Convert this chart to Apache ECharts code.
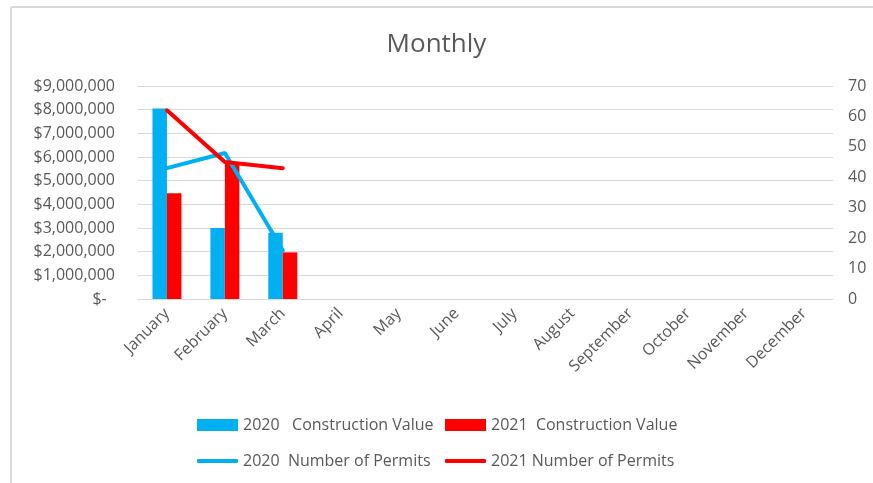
<!DOCTYPE html>
<html lang="en">
<head>
    <meta charset="utf-8">
    <title>Monthly</title>
    <script src="https://cdn.jsdelivr.net/npm/echarts@6/dist/echarts.min.js"></script>
    <style>
        html, body { margin: 0; padding: 0; background: #fff; }
    </style>
</head>
<body>
<div id="main" style="width: 873px;height:483px;"></div>

<script type="text/javascript">
    var months = ['January', 'February', 'March', 'April', 'May', 'June', 'July',
        'August', 'September', 'October', 'November', 'December'];
    var value2020 = [8050000, 3000000, 2800000, null, null, null, null, null, null, null, null, null];
    var value2021 = [4470000, 5700000, 1970000, null, null, null, null, null, null, null, null, null];
    var permits2020 = [43, 48, 16, null, null, null, null, null, null, null, null, null];
    var permits2021 = [62, 45, 43, null, null, null, null, null, null, null, null, null];

    var font = 'Open Sans';
    var grey = '#595959';
    var blue = '#00B0F0';
    var red = '#FF0000';

    var myChart = echarts.init(document.getElementById('main'));

    // one legend per entry so each sits where Excel put it
    function legendAt(name, left, top, h, icon) {
        return {
            data: [name],
            left: left,
            top: top,
            icon: icon,
            itemWidth: 41,
            itemHeight: h,
            itemGap: 0,
            textStyle: {color: grey, fontSize: 16, fontFamily: font}
        };
    }

    var option = {
        animation: false,
        title: {
            text: 'Monthly',
            left: 'center',
            top: 27,
            textStyle: {color: grey, fontSize: 26, fontWeight: 'normal', fontFamily: font}
        },
        graphic: [
            {type: 'line', shape: {x1: 11, y1: 7, x2: 873, y2: 7}, style: {stroke: '#D9D9D9', lineWidth: 2}},
            {type: 'line', shape: {x1: 11, y1: 7, x2: 11, y2: 483}, style: {stroke: '#D9D9D9', lineWidth: 2}}
        ],
        legend: [
            legendAt('2020   Construction Value', 192, 412, 12, 'rect'),
            legendAt('2021  Construction Value', 440, 412, 12, 'rect'),
            legendAt('2020  Number of Permits', 192, 448, 4, 'roundRect'),
            legendAt('2021 Number of Permits', 440, 448, 4, 'roundRect')
        ],
        grid: {left: 138, right: 40, top: 86, bottom: 184},
        xAxis: {
            type: 'category',
            data: months,
            axisLine: {lineStyle: {color: '#D9D9D9'}},
            axisTick: {show: false},
            axisLabel: {
                interval: 0,
                rotate: 45,
                margin: 12,
                color: grey,
                fontSize: 16,
                fontFamily: font
            }
        },
        yAxis: [
            {
                type: 'value',
                min: 0,
                max: 9000000,
                interval: 1000000,
                axisLine: {show: false},
                axisTick: {show: false},
                splitLine: {lineStyle: {color: '#D9D9D9'}},
                axisLabel: {
                    margin: 23,
                    color: grey,
                    fontSize: 16,
                    fontFamily: font,
                    formatter: function (v) {
                        return v === 0 ? '$-  ' : '$' + v.toLocaleString('en-US');
                    }
                }
            },
            {
                type: 'value',
                min: 0,
                max: 70,
                interval: 10,
                axisLine: {show: false},
                axisTick: {show: false},
                splitLine: {show: false},
                axisLabel: {margin: 15, color: grey, fontSize: 16, fontFamily: font}
            }
        ],
        series: [
            {
                name: '2020   Construction Value',
                type: 'bar',
                data: value2020,
                barWidth: 14.5,
                barGap: '0%',
                itemStyle: {color: blue}
            },
            {
                name: '2021  Construction Value',
                type: 'bar',
                data: value2021,
                barWidth: 14.5,
                barGap: '0%',
                itemStyle: {color: red}
            },
            {
                name: '2020  Number of Permits',
                type: 'line',
                yAxisIndex: 1,
                data: permits2020,
                symbol: 'none',
                lineStyle: {color: blue, width: 4, cap: 'round'},
                itemStyle: {color: blue}
            },
            {
                name: '2021 Number of Permits',
                type: 'line',
                yAxisIndex: 1,
                data: permits2021,
                symbol: 'none',
                lineStyle: {color: red, width: 4, cap: 'round'},
                itemStyle: {color: red}
            }
        ]
    };

    myChart.setOption(option);
</script>

</body>
</html>
